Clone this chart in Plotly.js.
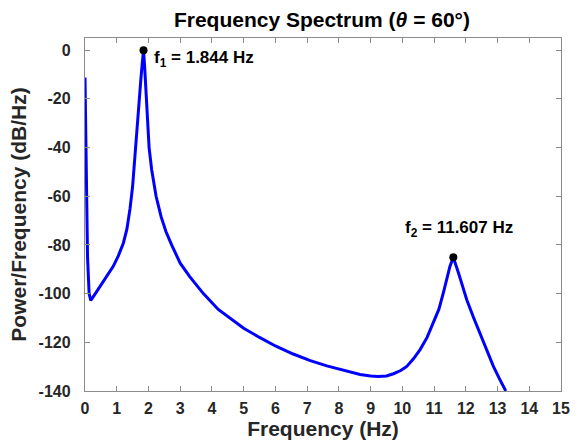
<!DOCTYPE html>
<html>
<head>
<meta charset="utf-8">
<script src="https://cdn.plot.ly/plotly-3.0.1.min.js"></script>
<style>html,body{margin:0;padding:0;background:#fff;}#chart{width:578px;height:441px;}</style>
</head>
<body>
<div id="chart"></div>
<script>
// Frequency (Hz) and PSD (dB/Hz)
const freq = [0, 0.03, 0.08, 0.13, 0.18, 0.3, 0.47, 0.7, 0.89, 1.05, 1.21, 1.32, 1.42, 1.5, 1.57, 1.63, 1.68, 1.72, 1.76, 1.8, 1.844,
  1.88, 1.92, 1.96, 2.02, 2.1, 2.24, 2.4, 2.55, 2.73, 3.0, 3.3, 3.73, 4.2, 4.6, 5.0, 5.5, 6.0, 6.56, 7.1, 7.62, 8.2, 8.67, 9.0, 9.24, 9.5, 9.72, 9.95, 10.14, 10.35, 10.56, 10.78, 10.98, 11.15, 11.29, 11.4, 11.5, 11.607,
  11.7, 11.77, 11.9, 12.03, 12.25, 12.45, 12.65, 12.87, 13.07, 13.26];
const psd = [-11.2, -45, -85, -100, -102.8, -100.5, -97, -92.5, -88.8, -84.5, -79.2, -73.5, -65, -56, -43, -33, -25, -18, -12, -6, 0,
  -7, -18, -28, -40, -49, -60, -68.5, -74.5, -80, -87.5, -93, -100, -106.5, -110.5, -114.2, -118, -121.5, -124.8, -127.5, -129.7, -131.8, -133.2, -133.8, -134, -133.8, -132.9, -131.6, -129.9, -126.8, -123, -118, -112.1, -106.5, -99.8, -94.5, -88.8, -85.1,
  -88.5, -91.5, -97, -102.5, -110, -116.2, -123, -129.9, -135.2, -140];
const peakFreq = [1.844, 11.607];
const peakPsd = [0, -85.1];
const peakLabels = ['f<sub>1</sub> = 1.844 Hz', 'f<sub>2</sub> = 11.607 Hz'];
const xTicks = [0,1,2,3,4,5,6,7,8,9,10,11,12,13,14,15];
const yTicks = [0,-20,-40,-60,-80,-100,-120,-140];

const FONT = 'Arial, "Liberation Sans", sans-serif';
const axisCol = '#8c8c8c';
const txt = '#262626';

const traces = [
  {x: freq, y: psd, type: 'scatter', mode: 'lines', line: {color: '#0000ff', width: 3}, hoverinfo: 'skip', cliponaxis: true},
  {x: peakFreq, y: peakPsd, type: 'scatter', mode: 'markers', marker: {color: '#000', size: 8}, hoverinfo: 'skip', cliponaxis: false}
];

const layout = {
  width: 578, height: 441,
  margin: {l: 85, r: 17, t: 38, b: 50},
  paper_bgcolor: '#fff', plot_bgcolor: '#fff',
  showlegend: false,
  font: {family: FONT, color: txt},
  title: {text: '<b>Frequency Spectrum (<i>θ</i> = 60°)</b>', font: {family: FONT, size: 21, color: '#000'}, x: 0.557, xanchor: 'center', y: 0.955, yanchor: 'middle'},
  xaxis: {
    range: [0, 15], tickvals: xTicks, ticktext: xTicks.map(v => '<b>' + v + '</b>'),
    ticks: 'inside', ticklen: 5, tickcolor: axisCol, tickwidth: 1,
    showline: true, linecolor: axisCol, linewidth: 1.2, mirror: 'ticks',
    showgrid: false, zeroline: false, ticklabelstandoff: 3,
    tickfont: {family: FONT, size: 16, color: txt},
    title: {text: '<b>Frequency (Hz)</b>', font: {family: FONT, size: 21, color: txt}, standoff: 2}
  },
  yaxis: {
    range: [-140, 5], tickvals: yTicks, ticktext: yTicks.map(v => '<b>' + v + '</b>'),
    ticks: 'inside', ticklen: 5, tickcolor: axisCol, tickwidth: 1,
    showline: true, linecolor: axisCol, linewidth: 1.2, mirror: 'ticks',
    showgrid: false, zeroline: false, ticklabelstandoff: 10,
    tickfont: {family: FONT, size: 16, color: txt},
    title: {text: '<b>Power/Frequency (dB/Hz)</b>', font: {family: FONT, size: 21, color: txt}, standoff: 6}
  },
  annotations: [
    {x: peakFreq[0], y: peakPsd[0], xref: 'x', yref: 'y', text: '<b>' + peakLabels[0] + '</b>', showarrow: false, xanchor: 'left', yanchor: 'middle', xshift: 8, yshift: -9, font: {family: FONT, size: 17, color: '#000'}},
    {x: peakFreq[1], y: peakPsd[1], xref: 'x', yref: 'y', text: '<b>' + peakLabels[1] + '</b>', showarrow: false, xanchor: 'center', yanchor: 'middle', xshift: 6, yshift: 28, font: {family: FONT, size: 17, color: '#000'}}
  ]
};

Plotly.newPlot('chart', traces, layout, {staticPlot: true, displayModeBar: false});
</script>
</body>
</html>
